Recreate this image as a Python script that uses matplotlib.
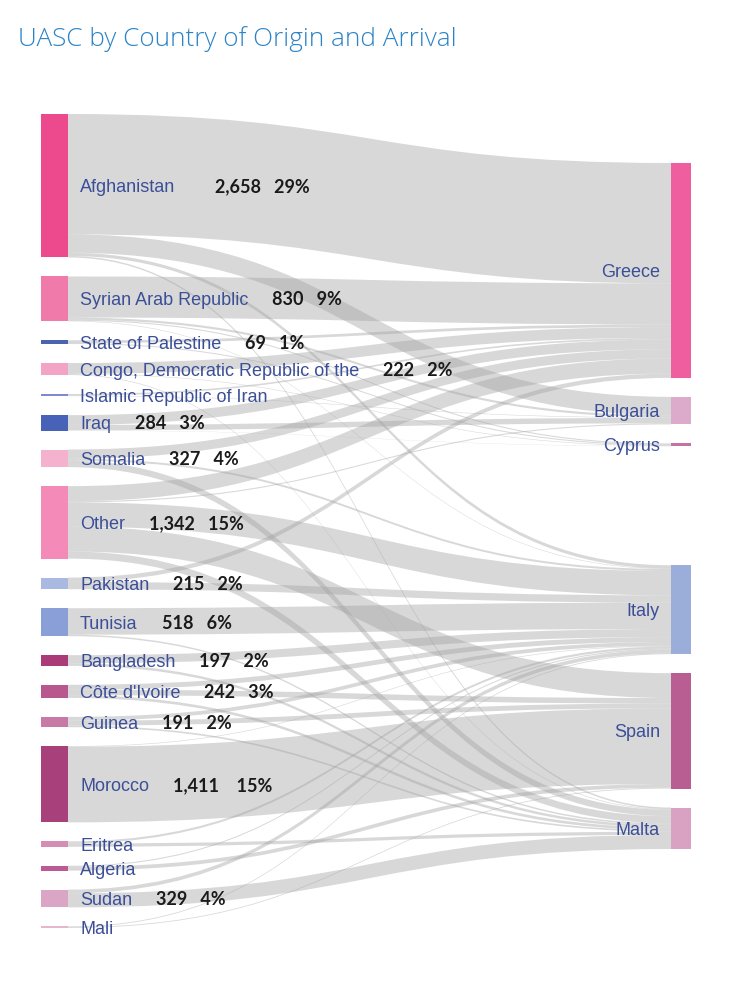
import matplotlib.pyplot as plt
from matplotlib.path import Path
from matplotlib.patches import PathPatch, Rectangle

origins = ["Afghanistan", "Syrian Arab Republic", "State of Palestine",
           "Congo, Democratic Republic of the", "Islamic Republic of Iran", "Iraq",
           "Somalia", "Other", "Pakistan", "Tunisia", "Bangladesh", "Côte d'Ivoire",
           "Guinea", "Morocco", "Eritrea", "Algeria", "Sudan", "Mali"]
origin_colors = ["#ec4a8c", "#f07aa9", "#4a64b0", "#f3a3c6", "#7a8ccf", "#4762b6",
                 "#f4b2ce", "#f38ab7", "#aab9e2", "#8a9fd8", "#a93b79", "#b9578f",
                 "#c77aa5", "#a8407c", "#d58db3", "#bb5a93", "#dba6c5", "#e6b6cf"]
# value labels shown on the chart (None = no label)
origin_labels = ["2,658   29%", "830   9%", "69   1%", "222   2%", None, "284   3%",
                 "327   4%", "1,342   15%", "215   2%", "518   6%", "197   2%", "242   3%",
                 "191   2%", "1,411    15%", None, None, "329   4%", None]

arrivals = ["Greece", "Bulgaria", "Cyprus", "Italy", "Spain", "Malta"]
arrival_colors = ["#ef5fa0", "#dcaacb", "#c472a3", "#9badd9", "#b95e93", "#d9a2c3"]

# flows: origin -> {arrival: number}
flows = {
    "Afghanistan": {"Greece": 2230, "Bulgaria": 340, "Italy": 60, "Malta": 28},
    "Syrian Arab Republic": {"Greece": 760, "Bulgaria": 40, "Cyprus": 20, "Italy": 10},
    "State of Palestine": {"Greece": 50, "Cyprus": 19},
    "Congo, Democratic Republic of the": {"Greece": 200, "Cyprus": 10, "Malta": 12},
    "Islamic Republic of Iran": {"Greece": 30, "Bulgaria": 10},
    "Iraq": {"Greece": 180, "Bulgaria": 100, "Cyprus": 4},
    "Somalia": {"Greece": 170, "Italy": 37, "Malta": 120},
    "Other": {"Greece": 280, "Bulgaria": 20, "Italy": 450, "Spain": 460, "Malta": 132},
    "Pakistan": {"Greece": 80, "Italy": 135},
    "Tunisia": {"Italy": 490, "Malta": 28},
    "Bangladesh": {"Italy": 150, "Malta": 47},
    "Côte d'Ivoire": {"Italy": 90, "Spain": 102, "Malta": 50},
    "Guinea": {"Italy": 70, "Spain": 90, "Malta": 31},
    "Morocco": {"Italy": 11, "Spain": 1400},
    "Eritrea": {"Italy": 40, "Malta": 60},
    "Algeria": {"Italy": 20, "Spain": 70},
    "Sudan": {"Italy": 69, "Malta": 260},
    "Mali": {"Italy": 15, "Spain": 15},
}

W, H = 751, 986
fig = plt.figure(figsize=(W / 100, H / 100), dpi=100)
ax = fig.add_axes([0, 0, 1, 1])
ax.set_xlim(0, W)
ax.set_ylim(H, 0)
ax.axis("off")

# layout
left_x0, left_x1 = 41, 68
right_x0, right_x1 = 671, 691
left_top, left_bottom = 114, 928
right_top = 163
gap = 19
extra_gap_after = {"Cyprus": 100}
value_gap = {"Afghanistan": 40}

src_tot = [sum(flows[o].values()) for o in origins]
dst_tot = [sum(flows[o].get(a, 0) for o in origins) for a in arrivals]
scale = (left_bottom - left_top - gap * (len(origins) - 1)) / sum(src_tot)

src_y = []
y = left_top
for t in src_tot:
    src_y.append(y)
    y += t * scale + gap

dst_y = []
y = right_top
for a, t in zip(arrivals, dst_tot):
    dst_y.append(y)
    y += t * scale + gap + extra_gap_after.get(a, 0)

links = []
for i, o in enumerate(origins):
    for j, a in enumerate(arrivals):
        v = flows[o].get(a, 0)
        if v:
            links.append((i, j, v))

# source side ordered by arrival, target side ordered by origin
src_pos = {}
off = list(src_y)
for (i, j, v) in sorted(links, key=lambda l: (l[0], l[1])):
    src_pos[(i, j)] = off[i]
    off[i] += v * scale
dst_pos = {}
off = list(dst_y)
for (i, j, v) in sorted(links, key=lambda l: (l[1], l[0])):
    dst_pos[(i, j)] = off[j]
    off[j] += v * scale

xm = (left_x1 + right_x0) / 2
for (i, j, v) in links:
    h = v * scale
    y0 = src_pos[(i, j)]
    y1 = dst_pos[(i, j)]
    verts = [(left_x1, y0), (xm, y0), (xm, y1), (right_x0, y1),
             (right_x0, y1 + h), (xm, y1 + h), (xm, y0 + h), (left_x1, y0 + h),
             (left_x1, y0)]
    codes = [Path.MOVETO, Path.CURVE4, Path.CURVE4, Path.CURVE4,
             Path.LINETO, Path.CURVE4, Path.CURVE4, Path.CURVE4, Path.CLOSEPOLY]
    ax.add_patch(PathPatch(Path(verts, codes), facecolor="#a3a3a3",
                           edgecolor="none", alpha=0.42, zorder=1))

fig.canvas.draw()
renderer = fig.canvas.get_renderer()
label_color = "#3b4f98"
for i, o in enumerate(origins):
    h = max(src_tot[i] * scale, 1.5)
    ax.add_patch(Rectangle((left_x0, src_y[i]), left_x1 - left_x0, h,
                           facecolor=origin_colors[i], edgecolor="none", zorder=2))
    yc = src_y[i] + src_tot[i] * scale / 2
    t = ax.text(80, yc + 2, o, ha="left", va="center", fontsize=13,
                family="Liberation Sans", color=label_color, zorder=3)
    if origin_labels[i]:
        bb = t.get_window_extent(renderer=renderer)
        ax.annotate(origin_labels[i], xy=(bb.x1 + value_gap.get(o, 24), H - yc - 1),
                    xycoords="figure pixels", ha="left", va="center",
                    fontsize=13, family="Lato", fontweight="bold",
                    color="#1a1a1a", zorder=3)

for j, a in enumerate(arrivals):
    h = max(dst_tot[j] * scale, 2)
    ax.add_patch(Rectangle((right_x0, dst_y[j]), right_x1 - right_x0, h,
                           facecolor=arrival_colors[j], edgecolor="none", zorder=2))
    ax.text(660, dst_y[j] + dst_tot[j] * scale / 2 + 2, a, ha="right", va="center",
            fontsize=13, family="Liberation Sans", color=label_color, zorder=3)

fig.text(18 / W, 1 - 39 / H, "UASC by Country of Origin and Arrival", ha="left",
         va="center", fontsize=18.8, family="Open Sans", fontweight="light",
         color="#2b84c6")

fig.savefig("out.png", dpi=100)
